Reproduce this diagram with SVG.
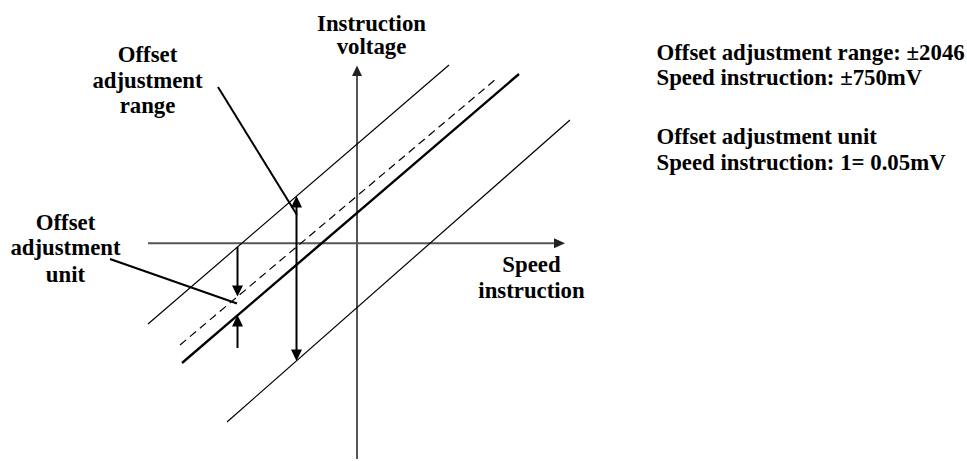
<svg xmlns="http://www.w3.org/2000/svg" width="967" height="461" viewBox="0 0 967 461">
<style>
text{font-family:"Liberation Serif","Times New Roman",serif;font-weight:bold;font-size:22.8px;fill:#000}
.c{text-anchor:middle}
.axis{stroke:#555;stroke-width:2;fill:none}
.thin{stroke:#000;stroke-width:1.2;fill:none}
.thick{stroke:#000;stroke-width:2.4;fill:none}
.dash{stroke:#000;stroke-width:1.2;fill:none;stroke-dasharray:8 5}
.arr{stroke:#000;stroke-width:2;fill:none}
.head{fill:#000;stroke:none}
.ahead{fill:#222;stroke:none}
</style>
<rect width="967" height="461" fill="#fff"/>
<g id="axes">
<line class="axis" x1="357" y1="74" x2="357" y2="459"/>
<polygon class="ahead" points="357,65.5 352,76 362,76"/>
<line class="axis" x1="148" y1="243.3" x2="556" y2="243.3"/>
<polygon class="ahead" points="565,243.3 554,238.3 554,248.3"/>
</g>
<g id="lines">
<line class="thin" x1="148" y1="324" x2="449" y2="65"/>
<line class="dash" x1="180" y1="345" x2="496" y2="79"/>
<line class="thick" x1="182" y1="363" x2="519" y2="74"/>
<line class="thin" x1="227" y1="422" x2="570" y2="120"/>
</g>
<g id="connectors">
<line class="arr" x1="296.5" y1="205" x2="296.5" y2="352"/>
<polygon class="head" points="296.5,196 291,207.5 302,207.5"/>
<polygon class="head" points="296.5,361 291,349.5 302,349.5"/>
<line class="arr" x1="237.5" y1="247" x2="237.5" y2="288"/>
<polygon class="head" points="237.5,296.5 232,285.5 243,285.5"/>
<line class="arr" x1="237.5" y1="324" x2="237.5" y2="348"/>
<polygon class="head" points="237.5,315 232,326.5 243,326.5"/>
<line class="arr" x1="218" y1="87" x2="297" y2="215"/>
<line class="arr" x1="110" y1="259" x2="237" y2="303.5"/>
</g>
<g id="label-range">
<text class="c" x="147.5" y="61.5">Offset</text>
<text class="c" x="147.5" y="87.5">adjustment</text>
<text class="c" x="147.5" y="113">range</text>
</g>
<g id="label-unit">
<text class="c" x="65.5" y="229.5">Offset</text>
<text class="c" x="65.5" y="255">adjustment</text>
<text class="c" x="65.5" y="281.5">unit</text>
</g>
<g id="label-voltage">
<text class="c" x="371.5" y="30.5">Instruction</text>
<text class="c" x="371.5" y="53.5">voltage</text>
</g>
<g id="label-speed">
<text class="c" x="531.5" y="271.5">Speed</text>
<text class="c" x="531.5" y="297.5">instruction</text>
</g>
<g id="notes">
<text x="656.5" y="59.5">Offset adjustment range: ±2046</text>
<text x="656.5" y="85">Speed instruction: ±750mV</text>
<text x="656.5" y="143.5">Offset adjustment unit</text>
<text x="656.5" y="169.5">Speed instruction: 1= 0.05mV</text>
</g>
</svg>
